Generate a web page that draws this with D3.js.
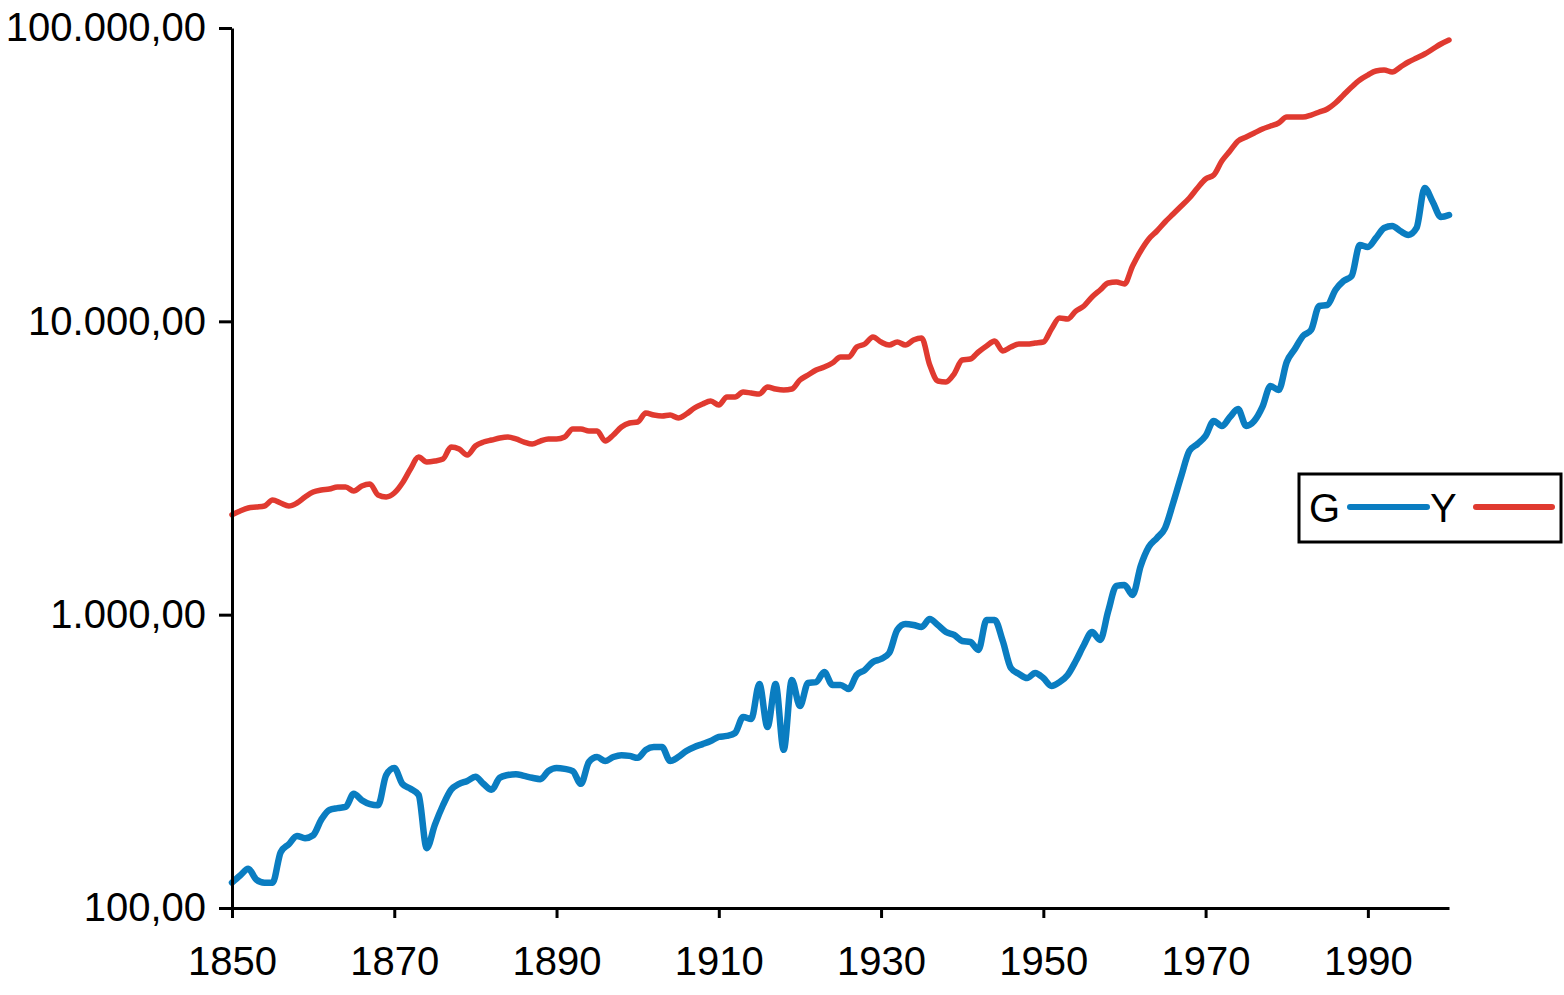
<!DOCTYPE html>
<html>
<head>
<meta charset="utf-8">
<script src="https://cdn.jsdelivr.net/npm/d3@7"></script>
<style>
  html, body { margin: 0; padding: 0; background: #ffffff; }
  svg { display: block; }
  text { font-family: "Liberation Sans", Arial, Helvetica, sans-serif; fill: #000; }
</style>
</head>
<body>
<svg id="chart" width="1564" height="995"></svg>
<script>
const years = [
  1850,1851,1852,1853,1854,1855,1856,1857,1858,1859,
  1860,1861,1862,1863,1864,1865,1866,1867,1868,1869,
  1870,1871,1872,1873,1874,1875,1876,1877,1878,1879,
  1880,1881,1882,1883,1884,1885,1886,1887,1888,1889,
  1890,1891,1892,1893,1894,1895,1896,1897,1898,1899,
  1900,1901,1902,1903,1904,1905,1906,1907,1908,1909,
  1910,1911,1912,1913,1914,1915,1916,1917,1918,1919,
  1920,1921,1922,1923,1924,1925,1926,1927,1928,1929,
  1930,1931,1932,1933,1934,1935,1936,1937,1938,1939,
  1940,1941,1942,1943,1944,1945,1946,1947,1948,1949,
  1950,1951,1952,1953,1954,1955,1956,1957,1958,1959,
  1960,1961,1962,1963,1964,1965,1966,1967,1968,1969,
  1970,1971,1972,1973,1974,1975,1976,1977,1978,1979,
  1980,1981,1982,1983,1984,1985,1986,1987,1988,1989,
  1990,1991,1992,1993,1994,1995,1996,1997,1998,1999,
  2000
];

// Series G (blue)
const seriesG = [
  122,129,136,125,122,122,155,165,176,173,
  177,200,216,219,221,245,233,226,224,284,
  300,265,255,243,160,192,224,253,265,271,
  280,265,253,278,284,286,282,278,275,293,
  300,298,293,265,315,327,317,327,332,330,
  325,346,354,354,317,327,343,354,362,371,
  383,386,395,448,441,580,414,580,346,599,
  488,585,589,638,576,576,558,623,648,690,
  706,740,887,929,922,908,967,922,873,853,
  813,807,758,959,959,813,658,628,608,633,
  608,571,589,623,695,788,873,820,1029,1253,
  1262,1167,1465,1701,1825,1974,2403,2969,3614,3818,
  4066,4574,4398,4718,5024,4398,4574,5105,6019,5833,
  7267,8046,8913,9342,11277,11366,12789,13724,14273,18203,
  17920,19240,20810,21140,20320,19700,20810,28480,25520,22680,
  23040
];

// Series Y (red)
const seriesY = [
  2190,2256,2310,2328,2347,2460,2403,2347,2403,2518,
  2619,2661,2682,2724,2724,2640,2746,2789,2558,2518,
  2598,2811,3138,3447,3314,3340,3393,3728,3670,3502,
  3758,3878,3939,4002,4034,3971,3878,3818,3908,3971,
  3971,4034,4296,4296,4229,4229,3908,4098,4364,4503,
  4538,4869,4793,4756,4793,4682,4831,5064,5226,5351,
  5185,5521,5521,5741,5696,5652,5972,5879,5833,5879,
  6310,6561,6823,6987,7210,7556,7556,8173,8368,8843,
  8500,8303,8500,8303,8636,8772,7098,6261,6213,6613,
  7381,7439,7861,8240,8568,7923,8173,8368,8368,8435,
  8500,9415,10264,10184,10843,11277,12104,12789,13507,13614,
  13403,15437,17370,19085,20323,21811,23220,24720,26330,28480,
  30570,31540,35210,38080,41190,42500,43850,45250,46330,47440,
  49720,49720,49720,50510,51710,52950,55500,59090,62920,66480,
  69130,71340,71900,70780,73600,76560,78990,81520,84780,88180,
  91010
];

const seriesNames = ["G", "Y"];
const seriesColors = ["#0a7dc1", "#e03a30"];
const xTickValues = [1850, 1870, 1890, 1910, 1930, 1950, 1970, 1990];
const yTickValues = [100, 1000, 10000, 100000];

const svg = d3.select("#chart");

const x = d3.scaleLinear().domain([1850, 2000]).range([232, 1449]);
const y = d3.scaleLog().domain([100, 100000]).range([908, 28]);

const locale = d3.formatLocale({decimal: ",", thousands: ".", grouping: [3], currency: ["", ""]});
const yFmt = locale.format(",.2f");

// Lines
const line = d3.line()
  .x(d => x(d[0]))
  .y(d => y(d[1]))
  .curve(d3.curveMonotoneX);

const dataG = years.map((yr, i) => [yr, seriesG[i]]);
const dataY = years.map((yr, i) => [yr, seriesY[i]]);

svg.append("path")
  .datum(dataY)
  .attr("d", line)
  .attr("fill", "none")
  .attr("stroke", seriesColors[1])
  .attr("stroke-width", 5.5)
  .attr("stroke-linejoin", "round")
  .attr("stroke-linecap", "round");

svg.append("path")
  .datum(dataG)
  .attr("d", line)
  .attr("fill", "none")
  .attr("stroke", seriesColors[0])
  .attr("stroke-width", 6.5)
  .attr("stroke-linejoin", "round")
  .attr("stroke-linecap", "round");

// Axes
const yAxis = d3.axisLeft(y)
  .tickValues(yTickValues)
  .tickFormat(yFmt)
  .tickSize(13)
  .tickSizeOuter(0)
  .tickPadding(13);

const xAxis = d3.axisBottom(x)
  .tickValues(xTickValues)
  .tickFormat(d3.format("d"))
  .tickSize(10)
  .tickSizeOuter(0)
  .tickPadding(29);

const gx = svg.append("g").attr("transform", `translate(0,${y(100)})`).call(xAxis);
const gy = svg.append("g").attr("transform", `translate(${x(1850)},0)`).call(yAxis);

[gx, gy].forEach(g => {
  g.selectAll(".domain").attr("stroke", "#000").attr("stroke-width", 3);
  g.selectAll(".tick line").attr("stroke", "#000").attr("stroke-width", 3);
  g.selectAll(".tick text")
    .attr("font-family", "'Liberation Sans', Arial, Helvetica, sans-serif")
    .attr("font-size", 40)
    .attr("fill", "#000");
});

// Legend
const legend = svg.append("g").attr("class", "legend");
legend.append("rect")
  .attr("x", 1299).attr("y", 474)
  .attr("width", 262).attr("height", 68)
  .attr("fill", "#fff")
  .attr("stroke", "#000")
  .attr("stroke-width", 3);

const legendItems = [
  {name: seriesNames[0], color: seriesColors[0], tx: 1309, lx1: 1350, lx2: 1427},
  {name: seriesNames[1], color: seriesColors[1], tx: 1430, lx1: 1476, lx2: 1552}
];
legendItems.forEach(it => {
  legend.append("text")
    .attr("x", it.tx).attr("y", 522)
    .attr("font-size", 40)
    .text(it.name);
  legend.append("line")
    .attr("x1", it.lx1).attr("x2", it.lx2)
    .attr("y1", 507).attr("y2", 507)
    .attr("stroke", it.color)
    .attr("stroke-width", 6)
    .attr("stroke-linecap", "round");
});
</script>
</body>
</html>
